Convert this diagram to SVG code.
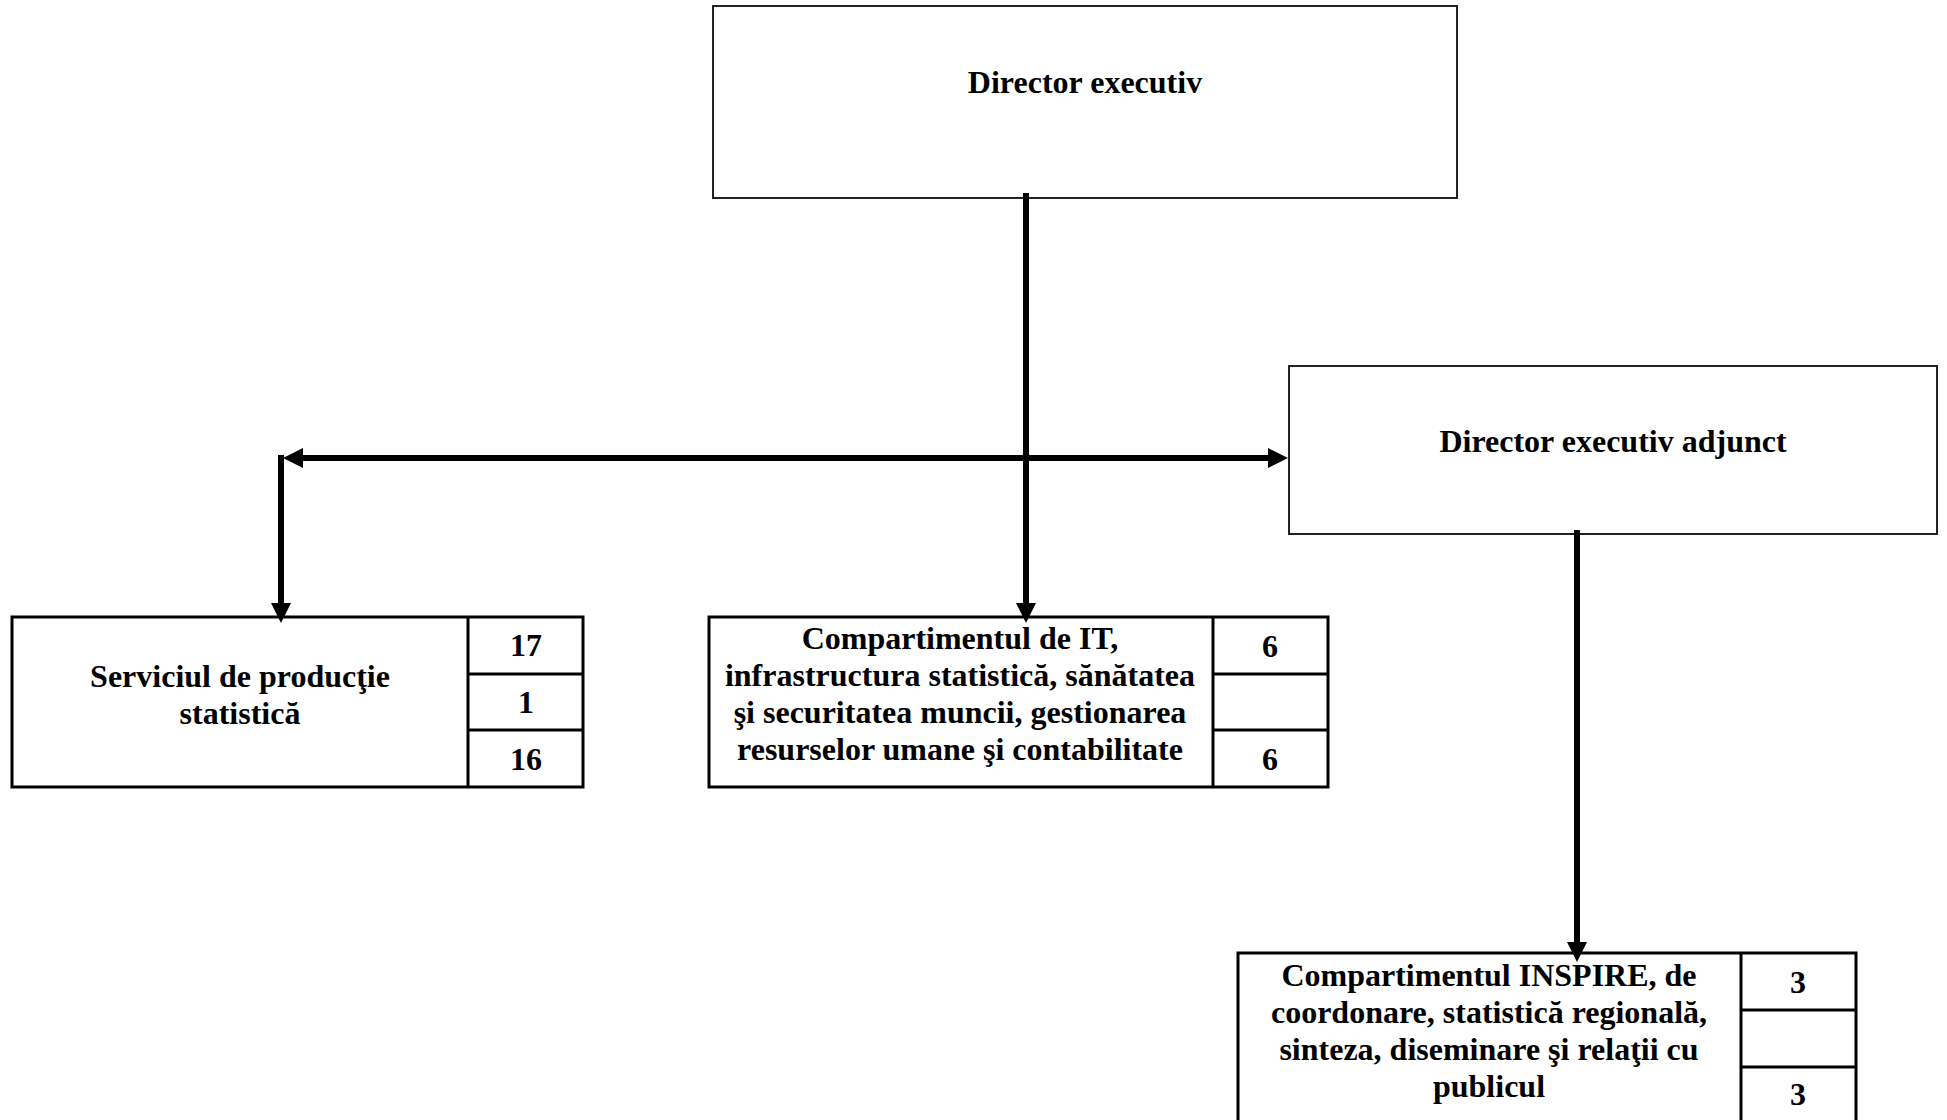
<svg xmlns="http://www.w3.org/2000/svg" width="1947" height="1120" viewBox="0 0 1947 1120">
<style>
  .box { fill: #fff; stroke: #222; stroke-width: 2; }
  .tbl { fill: #fff; stroke: #000; stroke-width: 3; }
  .t { font-family: "Liberation Serif", "Times New Roman", serif; font-weight: bold; font-size: 32px; fill: #000; text-anchor: middle; }
  .c { fill: none; stroke: #000; stroke-width: 6; }
</style>
<defs>
  <marker id="arr" markerUnits="userSpaceOnUse" markerWidth="20" markerHeight="20" refX="0" refY="10" orient="auto-start-reverse" viewBox="0 0 20 20">
    <path d="M0,0 L20,10 L0,20 z" fill="#000"/>
  </marker>
</defs>
<rect width="1947" height="1120" fill="#fff"/>

<g id="director">
  <rect class="box" x="713" y="6" width="744" height="192"/>
  <text class="t" x="1085" y="93">Director executiv</text>
</g>

<g id="adjunct">
  <rect class="box" x="1289" y="366" width="648" height="168"/>
  <text class="t" x="1613" y="452">Director executiv adjunct</text>
</g>

<g id="serviciul">
  <rect class="tbl" x="12" y="617" width="571" height="170"/>
  <line class="tbl" x1="468" y1="617" x2="468" y2="787"/>
  <line class="tbl" x1="468" y1="674" x2="583" y2="674"/>
  <line class="tbl" x1="468" y1="730" x2="583" y2="730"/>
  <text class="t" x="240" y="687">Serviciul de producţie</text>
  <text class="t" x="240" y="724">statistică</text>
  <text class="t" x="526" y="656">17</text>
  <text class="t" x="526" y="713">1</text>
  <text class="t" x="526" y="770">16</text>
</g>

<g id="it">
  <rect class="tbl" x="709" y="617" width="619" height="170"/>
  <line class="tbl" x1="1213" y1="617" x2="1213" y2="787"/>
  <line class="tbl" x1="1213" y1="674" x2="1328" y2="674"/>
  <line class="tbl" x1="1213" y1="730" x2="1328" y2="730"/>
  <text class="t" x="960" y="649">Compartimentul de IT,</text>
  <text class="t" x="960" y="686">infrastructura statistică, sănătatea</text>
  <text class="t" x="960" y="723">şi securitatea muncii, gestionarea</text>
  <text class="t" x="960" y="760">resurselor umane şi contabilitate</text>
  <text class="t" x="1270" y="657">6</text>
  <text class="t" x="1270" y="770">6</text>
</g>

<g id="inspire">
  <rect class="tbl" x="1238" y="953" width="618" height="180"/>
  <line class="tbl" x1="1741" y1="953" x2="1741" y2="1133"/>
  <line class="tbl" x1="1741" y1="1010" x2="1856" y2="1010"/>
  <line class="tbl" x1="1741" y1="1067" x2="1856" y2="1067"/>
  <text class="t" x="1489" y="986">Compartimentul INSPIRE, de</text>
  <text class="t" x="1489" y="1023">coordonare, statistică regională,</text>
  <text class="t" x="1489" y="1060">sinteza, diseminare şi relaţii cu</text>
  <text class="t" x="1489" y="1097">publicul</text>
  <text class="t" x="1798" y="993">3</text>
  <text class="t" x="1798" y="1105">3</text>
</g>

<g id="connectors">
  <path class="c" d="M1026,193 L1026,603" marker-end="url(#arr)"/>
  <path class="c" d="M303,458 L1268,458" marker-start="url(#arr)" marker-end="url(#arr)"/>
  <path class="c" d="M281,455 L281,603" marker-end="url(#arr)"/>
  <path class="c" d="M1577,530 L1577,942" marker-end="url(#arr)"/>
</g>
</svg>
